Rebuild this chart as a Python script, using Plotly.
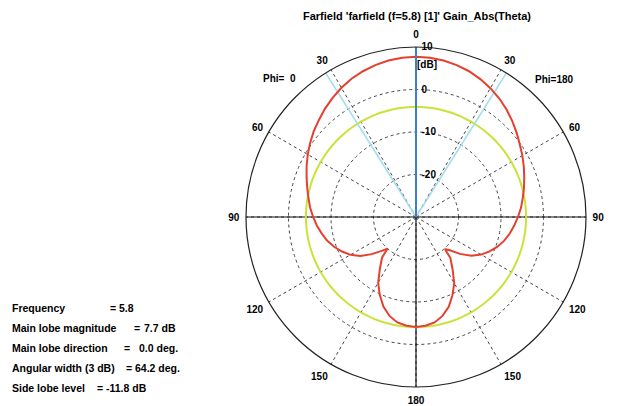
import plotly.graph_objects as go

# Farfield gain cut (Theta), sampled from main lobe (0 deg) to back lobe (180 deg)
theta_deg = [0, 5, 10, 15, 20, 25, 30, 35, 40, 45, 50, 55, 60, 65, 70, 75, 80, 85, 90,
             95, 100, 105, 110, 115, 120, 125, 130, 135, 138, 140, 145, 150, 155, 160,
             165, 170, 175, 180]
gain_phi0 = [7.7, 7.6, 7.4, 7.0, 6.5, 5.9, 5.1, 4.2, 3.3, 2.3, 1.4, 0.4, -0.6, -1.6, -2.6,
             -3.5, -4.3, -5.0, -5.8, -6.6, -7.5, -8.4, -9.5, -10.8, -12.2, -14.0, -16.4,
             -18.8, -20.0, -17.6, -15.2, -12.2, -9.8, -7.6, -5.9, -4.8, -4.3, -4.1]
gain_phi180 = [7.7, 7.6, 7.4, 7.0, 6.5, 5.8, 5.0, 4.1, 3.1, 2.0, 0.9, -0.2, -1.1, -2.0, -2.9,
               -3.7, -4.5, -5.2, -6.0, -6.8, -7.6, -8.5, -9.6, -10.9, -12.3, -14.1, -16.5,
               -19.0, -19.8, -17.4, -15.0, -12.0, -9.7, -7.5, -5.9, -4.8, -4.3, -4.1]

# Summary figures
frequency = 5.8
main_lobe_magnitude = 7.7
main_lobe_direction = 0.0
angular_width_3db = 64.2
side_lobe_level = -11.8

r_min, r_max = -30, 10
radial_ticks = [-20, -10, 0, 10]
angle_ticks = list(range(0, 360, 30))
angle_labels = ["0", "30", "60", "90", "120", "150", "180", "150", "120", "90", "60", "30"]

# Phi=0 half is drawn counterclockwise from the top, Phi=180 half clockwise
curve_theta = theta_deg + [360 - t for t in reversed(theta_deg)]
curve_r = gain_phi0 + list(reversed(gain_phi180))

fig = go.Figure()

# solid horizontal axis (90 - 90) and lower vertical axis (to 180)
fig.add_trace(go.Scatterpolar(r=[r_max, r_min, r_max], theta=[90, 90, 270], mode="lines",
                              line=dict(color="#111111", width=1.2), hoverinfo="skip"))
fig.add_trace(go.Scatterpolar(r=[r_min, r_max], theta=[180, 180], mode="lines",
                              line=dict(color="#111111", width=1.2), hoverinfo="skip"))

# side lobe level circle
sll_abs = main_lobe_magnitude + side_lobe_level
circle_theta = list(range(0, 361, 2))
fig.add_trace(go.Scatterpolar(r=[sll_abs] * len(circle_theta), theta=circle_theta, mode="lines",
                              line=dict(color="#c9e33a", width=2), hoverinfo="skip"))

# 3 dB beam width limits
half_width = angular_width_3db / 2
for a in (main_lobe_direction + half_width, 360 - main_lobe_direction - half_width):
    fig.add_trace(go.Scatterpolar(r=[r_min, r_max], theta=[a, a], mode="lines",
                                  line=dict(color="#a6dcef", width=1.5), hoverinfo="skip"))

# gain pattern
fig.add_trace(go.Scatterpolar(r=curve_r, theta=curve_theta, mode="lines",
                              line=dict(color="#e5402f", width=2), hoverinfo="skip"))

# main lobe direction
fig.add_trace(go.Scatterpolar(r=[r_min, r_max], theta=[main_lobe_direction] * 2, mode="lines",
                              line=dict(color="#3d7fc4", width=2), hoverinfo="skip"))

font_family = "Liberation Sans, Arial, sans-serif"

fig.update_layout(
    width=617, height=406,
    margin=dict(l=0, r=0, t=0, b=0),
    paper_bgcolor="white",
    showlegend=False,
    font=dict(family=font_family, size=10, color="black", weight="bold"),
    title=dict(text="Farfield 'farfield (f=5.8) [1]' Gain_Abs(Theta)",
               x=417 / 617, xanchor="center", y=1 - 16 / 406, yanchor="middle",
               font=dict(size=11, weight="bold", color="black")),
    polar=dict(
        domain=dict(x=[246 / 617, 586 / 617], y=[19 / 406, 359 / 406]),
        bgcolor="white",
        angularaxis=dict(rotation=90, direction="counterclockwise",
                         tickmode="array", tickvals=angle_ticks, ticktext=angle_labels,
                         showline=True, linecolor="#222222", linewidth=1.2,
                         showgrid=True, gridcolor="#444444", griddash="dot", gridwidth=1,
                         ticks="outside", ticklen=4, tickcolor="rgba(0,0,0,0)",
                         tickfont=dict(size=10, weight="bold", color="black")),
        radialaxis=dict(range=[r_min, r_max], angle=90, tickangle=90,
                        tickmode="array", tickvals=radial_ticks,
                        ticktext=[str(v) for v in radial_ticks],
                        showline=False, side="clockwise",
                        ticks="outside", ticklen=3, tickcolor="rgba(0,0,0,0)",
                        showgrid=True, gridcolor="#444444", griddash="dot", gridwidth=1,
                        tickfont=dict(size=10, weight="bold", color="black")),
    ),
)

ann = dict(xref="paper", yref="paper", showarrow=False, yanchor="middle")


def px(x, y, text, anchor="left", size=10.5):
    fig.add_annotation(x=x / 617, y=1 - y / 406, text=text, xanchor=anchor,
                       font=dict(size=size, weight="bold", color="black"), **ann)


px(427, 64, "[dB]", "center", 10)
px(279, 78, "Phi=\u00a0 0", "center", 10)
px(554, 79, "Phi=180", "center", 10)

# parameter summary block
rows = [
    ("Frequency", 108, f"{frequency}", 117, 308),
    ("Main lobe magnitude", 132, f"{main_lobe_magnitude:.1f} dB", 142, 328),
    ("Main lobe direction", 122, f"{main_lobe_direction:.1f} deg.", 137, 348),
    ("Angular width (3 dB)", 124, f"{angular_width_3db:.1f} deg.", 133, 368),
    ("Side lobe level", 95, f"{side_lobe_level:.1f} dB", 104, 388),
]
for label, x_eq, value, x_val, y in rows:
    px(10, y, label)
    px(x_eq, y, "=")
    px(x_val, y, value)

fig.write_html("out.html")
